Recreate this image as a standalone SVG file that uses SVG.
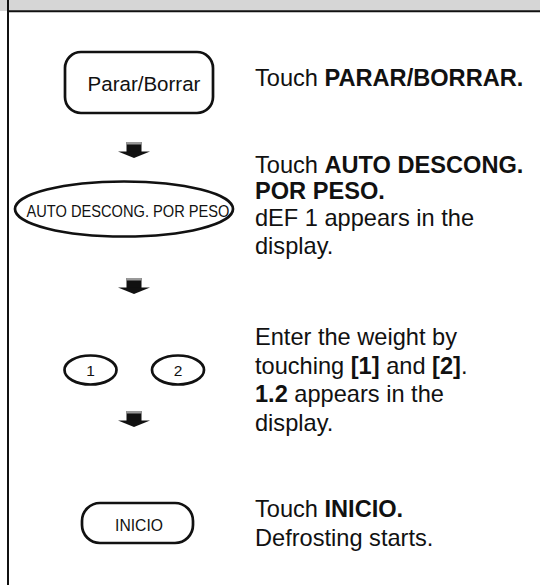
<svg xmlns="http://www.w3.org/2000/svg" width="540" height="585" viewBox="0 0 540 585">
<style>
.t{font-family:"Liberation Sans",Arial,sans-serif;font-size:23.6px;fill:#111}
.b{font-weight:bold}
.k{font-family:"Liberation Sans",Arial,sans-serif;fill:#111;text-anchor:middle}
.s{fill:#fff;stroke:#111;stroke-width:2.7}
</style>
<defs>
<g id="arr">
<rect x="-7.5" y="0" width="15" height="10" fill="#111"/>
<rect x="-7.5" y="0" width="15" height="2.5" fill="#999"/>
<polygon points="-16,9.5 16,9.5 0,16" fill="#111"/>
</g>
</defs>
<rect x="0" y="0" width="540" height="11" fill="#d6d6d6"/>
<line x1="7" y1="11.3" x2="540" y2="11.3" stroke="#111" stroke-width="2"/>
<line x1="8" y1="0" x2="8" y2="585" stroke="#111" stroke-width="2"/>
<g id="connectors">
<use href="#arr" x="134" y="142"/>
<use href="#arr" x="134" y="278"/>
<use href="#arr" x="134" y="411"/>
</g>
<g id="node-parar">
<rect class="s" x="65" y="52" width="148" height="61" rx="16"/>
<text class="k" x="144" y="91" font-size="20.5">Parar/Borrar</text>
</g>
<g id="node-auto">
<ellipse class="s" cx="124" cy="209" rx="109" ry="27.5"/>
<text class="k" x="128" y="217" font-size="16.5" textLength="203" lengthAdjust="spacingAndGlyphs">AUTO DESCONG. POR PESO</text>
</g>
<g id="node-1">
<ellipse class="s" cx="90.5" cy="370" rx="26" ry="14.5"/>
<text class="k" x="90.5" y="376" font-size="15.5">1</text>
</g>
<g id="node-2">
<ellipse class="s" cx="178" cy="370" rx="26" ry="14.5"/>
<text class="k" x="178" y="376" font-size="15.5">2</text>
</g>
<g id="node-inicio">
<rect class="s" x="82" y="503" width="111" height="40" rx="18"/>
<text class="k" x="139" y="531" font-size="15.7">INICIO</text>
</g>
<g id="text-1">
<text class="t" x="255" y="86">Touch <tspan class="b">PARAR/BORRAR.</tspan></text>
</g>
<g id="text-2">
<text class="t" x="255" y="173">Touch <tspan class="b">AUTO DESCONG.</tspan></text>
<text class="t b" x="255" y="199">POR PESO.</text>
<text class="t" x="255" y="226">dEF 1 appears in the</text>
<text class="t" x="255" y="254">display.</text>
</g>
<g id="text-3">
<text class="t" x="255" y="345">Enter the weight by</text>
<text class="t" x="255" y="374">touching <tspan class="b">[1]</tspan> and <tspan class="b">[2]</tspan>.</text>
<text class="t" x="255" y="402"><tspan class="b">1.2</tspan> appears in the</text>
<text class="t" x="255" y="431">display.</text>
</g>
<g id="text-4">
<text class="t" x="255" y="517">Touch <tspan class="b">INICIO.</tspan></text>
<text class="t" x="255" y="546">Defrosting starts.</text>
</g>
</svg>
